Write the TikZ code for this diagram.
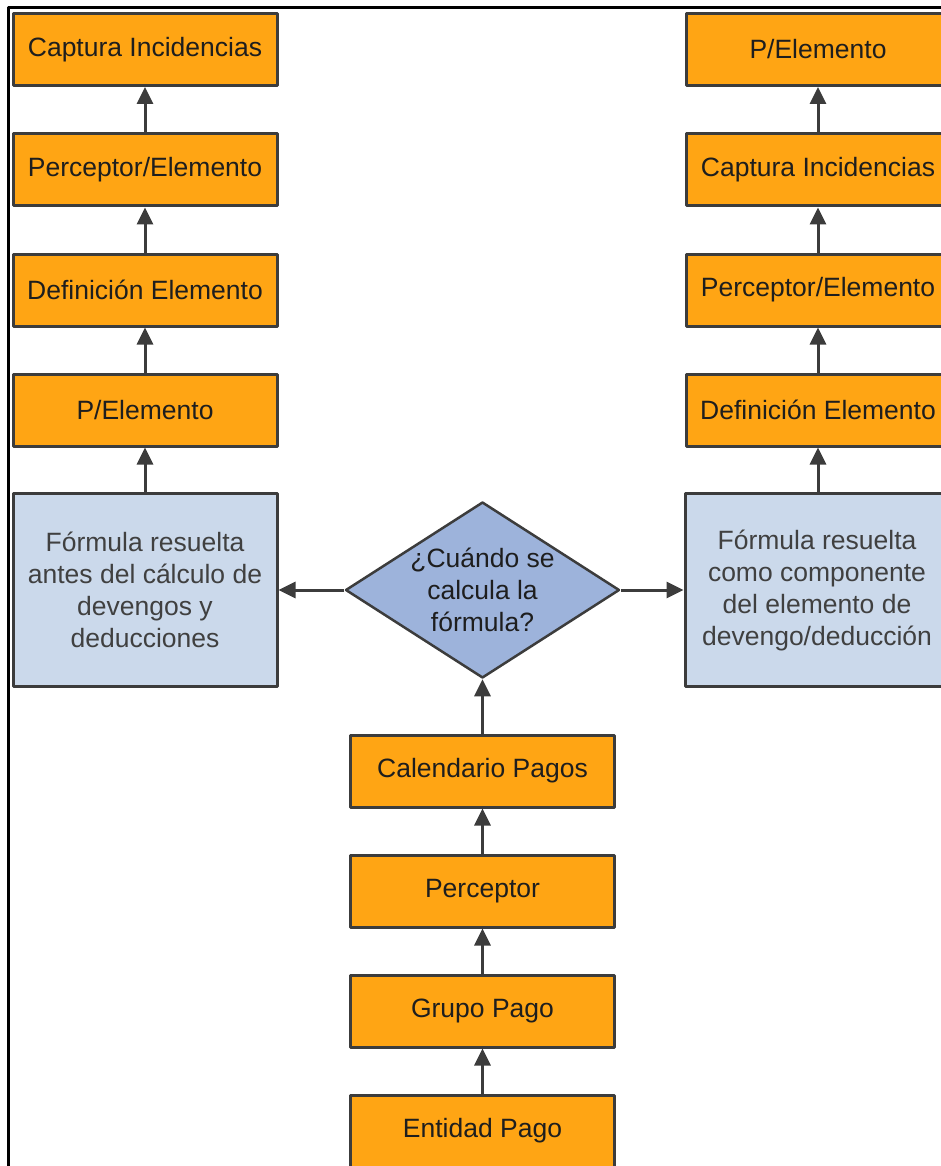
\documentclass[tikz,border=0pt]{standalone}
\usepackage{fontspec}
\setmainfont{Liberation Sans}
\usetikzlibrary{arrows.meta,shapes.geometric}
\definecolor{naranja}{HTML}{FFA514}
\definecolor{azulclaro}{HTML}{CBD9EB}
\definecolor{azul}{HTML}{9DB3DB}
\definecolor{borde}{HTML}{3C3C3C}
\definecolor{texto}{HTML}{1E1E1E}
\begin{document}
\begin{tikzpicture}[x=1pt, y=-1pt, font=\fontsize{26.5}{32}\selectfont, line join=round,
		paso/.style={draw=borde, line width=3pt, fill=naranja, text=texto, minimum width=264pt, minimum height=72pt, inner sep=0pt},
		formula/.style={draw=borde, line width=3pt, fill=azulclaro, text=texto!85!white, align=center, minimum width=264pt, minimum height=193pt, inner sep=0pt},
		pregunta/.style={diamond, draw=borde, line width=2.5pt, fill=azul, minimum width=274pt, minimum height=176pt, inner sep=0pt},
		flecha/.style={draw=borde, line width=3pt, -{Triangle[length=17pt,width=16pt]}}]
			\useasboundingbox (0,0) rectangle (940,1166);
			\draw[line width=3pt] (8,1170) -- (8,8) -- (944,8);
			% columna izquierda
			\node[paso] (l1) at (145,49.5) {Captura Incidencias};
			\node[paso] (l2) at (145,170) {Perceptor/Elemento};
			\node[paso] (l3) at (145,290) {Definición Elemento};
			\node[paso] (l4) at (145,410) {P/Elemento};
			\node[formula] (lb) at (145,590) {Fórmula resuelta\\antes del cálculo de\\devengos y\\deducciones};
			% columna derecha
			\node[paso] (r1) at (818,49.5) {P/Elemento};
			\node[paso] (r2) at (818,170) {Captura Incidencias};
			\node[paso] (r3) at (818,290) {Perceptor/Elemento};
			\node[paso] (r4) at (818,410) {Definición Elemento};
			\node[formula] (rb) at (817,590) {Fórmula resuelta\\como componente\\del elemento de\\devengo/deducción};
			% centro
			\node[pregunta] (q) at (482.5,590) {};
			\node[align=center, text=texto] (qtext) at (q.center) {¿Cuándo se\\calcula la\\fórmula?};
			\node[paso] (c1) at (482.5,771) {Calendario Pagos};
			\node[paso] (c2) at (482.5,891) {Perceptor};
			\node[paso] (c3) at (482.5,1011) {Grupo Pago};
			\node[paso] (c4) at (482.5,1131) {Entidad Pago};
			\draw[flecha] (lb) -- (l4);
			\draw[flecha] (l4) -- (l3);
			\draw[flecha] (l3) -- (l2);
			\draw[flecha] (l2) -- (l1);
			\draw[flecha] (rb.north -| r4) -- (r4);
			\draw[flecha] (r4) -- (r3);
			\draw[flecha] (r3) -- (r2);
			\draw[flecha] (r2) -- (r1);
			\draw[flecha] (q.west) -- (lb.east);
			\draw[flecha] (q.east) -- (rb.west);
			\draw[flecha] (c1) -- (q.south);
			\draw[flecha] (c2) -- (c1);
			\draw[flecha] (c3) -- (c2);
			\draw[flecha] (c4) -- (c3);
		\end{tikzpicture}
\end{document}
